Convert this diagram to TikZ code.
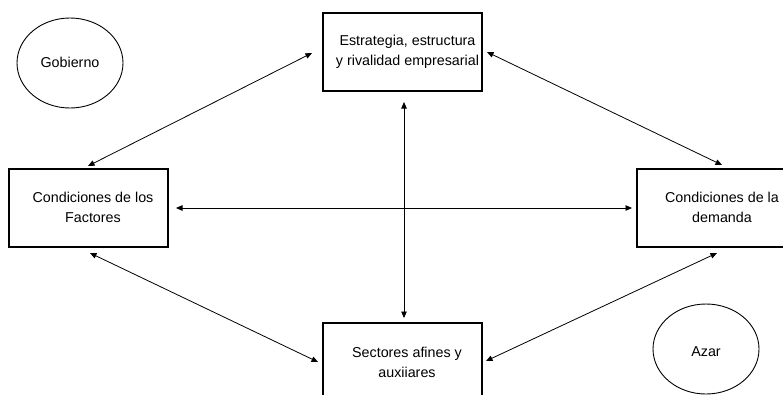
\documentclass[tikz,border=0pt]{standalone}
\usepackage{fontspec}
\setmainfont{Liberation Sans}
\usetikzlibrary{arrows.meta,shapes.geometric}
\begin{document}
\begin{tikzpicture}[x=1pt,y=-1pt,
  block/.style={draw,line width=1.5pt,minimum width=159pt,minimum height=78pt,inner sep=0pt},
  oval/.style={draw,ellipse,line width=0.9pt,minimum width=106pt,minimum height=90pt,inner sep=0pt},
  lbl/.style={font=\fontsize{14.3}{20}\selectfont,align=center,inner sep=0pt},
  link/.style={line width=0.8pt,{Triangle[length=6.5pt,width=5.5pt]}-{Triangle[length=6.5pt,width=5.5pt]}}]
\useasboundingbox (0,0) rectangle (783,394);

% the four determinants
\node[block] (strat) at (402.5,52) {};
\node[block] (fact)  at (88.5,208) {};
\node[block,minimum width=160pt] (dem) at (717,208) {};
\node[block] (sect)  at (402.5,362) {};

\node[lbl] (stratT) at (407.5,52) {Estrategia, estructura\\y rivalidad empresarial};
\node[lbl] (factT)  at (93,207) {Condiciones de los\\Factores};
\node[lbl] (demT)   at (722,207) {Condiciones de la\\demanda};
\node[lbl] (sectT)  at (407,362) {Sectores afines y\\auxiiares};

% outside influences
\node[oval] (gob) at (70,63) {};
\node[lbl]  (gobT) at (70,62) {Gobierno};
\node[oval] (azar) at (706,349) {};
\node[lbl]  (azarT) at (706,352) {Azar};

% arrow ends
\coordinate (a1) at (312,53);  \coordinate (b1) at (88,166);
\coordinate (a2) at (487,52);  \coordinate (b2) at (722,165);
\coordinate (a3) at (404,102); \coordinate (b3) at (404,318);
\coordinate (a4) at (176,208); \coordinate (b4) at (632,208);
\coordinate (a5) at (90,253);  \coordinate (b5) at (318,362);
\coordinate (a6) at (486,361); \coordinate (b6) at (717,253);

\draw[link] (a1) -- (b1);
\draw[link] (a2) -- (b2);
\draw[link] (a3) -- (b3);
\draw[link] (a4) -- (b4);
\draw[link] (a5) -- (b5);
\draw[link] (a6) -- (b6);
\end{tikzpicture}
\end{document}
